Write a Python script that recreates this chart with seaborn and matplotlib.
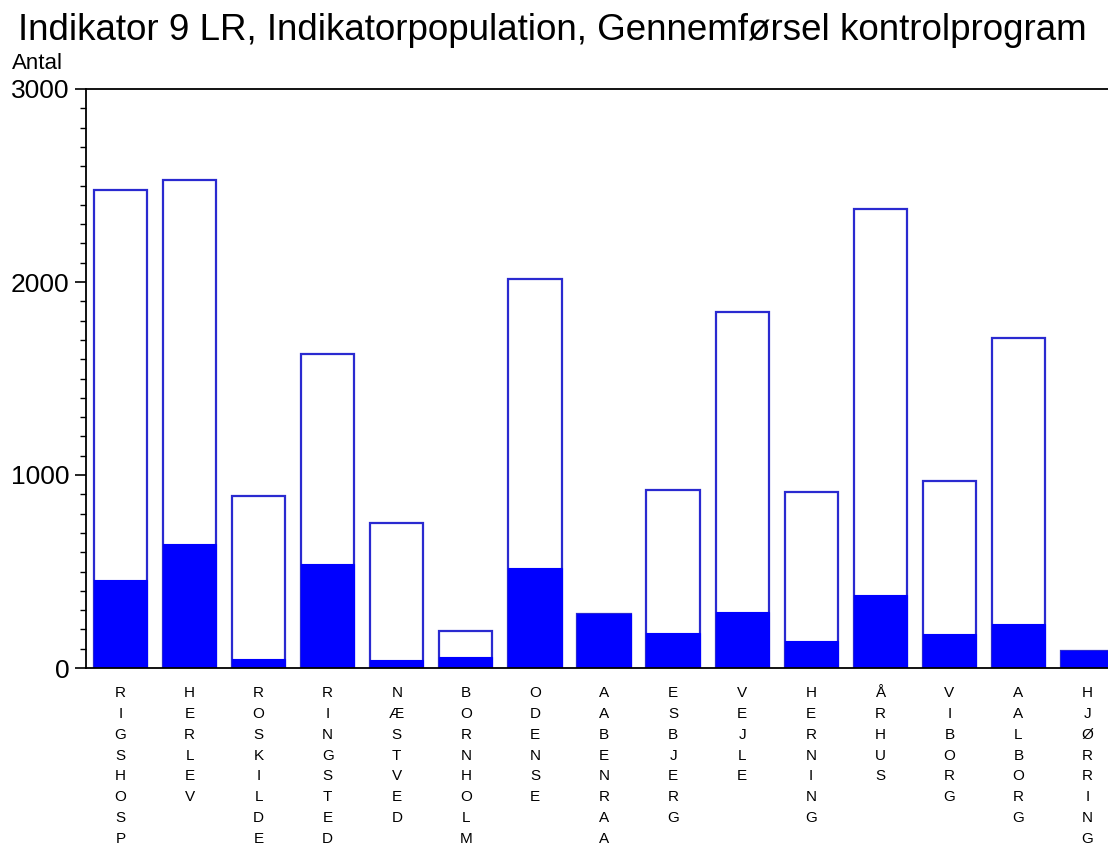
import numpy as np
import pandas as pd
import matplotlib
matplotlib.use("Agg")
import matplotlib.pyplot as plt
from matplotlib.ticker import MultipleLocator
import seaborn as sns

# data
afdelinger = ["RIGSHOSP", "HERLEV", "ROSKILDE", "RINGSTED", "NÆSTVED", "BORNHOLM",
              "ODENSE", "AABENRAA", "ESBJERG", "VEJLE", "HERNING", "ÅRHUS",
              "VIBORG", "AALBORG", "HJØRRING"]
antal_total = [2475, 2530, 889, 1628, 749, 194, 2014, 282, 922, 1842, 913, 2376, 967, 1711, 87]
antal_gennemfoert = [454, 643, 48, 541, 40, 56, 518, 282, 182, 290, 142, 378, 175, 230, 87]

df = pd.DataFrame({"afdeling": afdelinger,
                   "total": antal_total,
                   "gennemfoert": antal_gennemfoert})

sns.set_style("white")
plt.rcParams["font.family"] = ["Liberation Sans", "DejaVu Sans"]
plt.rcParams["text.color"] = "black"
plt.rcParams["xtick.color"] = "black"
plt.rcParams["ytick.color"] = "black"

fig = plt.figure(figsize=(11.08, 8.48), dpi=100)
ax = fig.add_axes([86 / 1108, 180 / 848, 1036 / 1108, 579 / 848])

sns.barplot(data=df, x="afdeling", y="total", color="white", edgecolor="#2a2ad0",
            linewidth=1.6, width=0.77, saturation=1, ax=ax)
sns.barplot(data=df, x="afdeling", y="gennemfoert", color="#0000ff", edgecolor="#0000ff",
            linewidth=0.8, width=0.77, saturation=1, ax=ax)

ax.set_xlim(-0.5, len(afdelinger) - 0.5)
ax.set_ylim(0, 3000)
ax.yaxis.set_major_locator(MultipleLocator(1000))
ax.yaxis.set_minor_locator(MultipleLocator(100))
ax.tick_params(axis="y", which="major", length=8, width=1.2, direction="out",
               labelsize=19, pad=4, left=True)
ax.tick_params(axis="y", which="minor", length=4.5, width=1, direction="out", left=True)
ax.tick_params(axis="x", length=0, pad=13)
ax.set_xticks(range(len(afdelinger)))
ax.set_xticklabels(["\n".join(a) for a in afdelinger], fontsize=11,
                   linespacing=1.62, va="top")
ax.set_xlabel("")
ax.set_ylabel("")

for side in ["left", "bottom", "top"]:
    ax.spines[side].set_color("black")
    ax.spines[side].set_linewidth(1.3)
ax.spines["right"].set_visible(False)

fig.text(18 / 1108, 1 - 13 / 848, "Indikator 9 LR, Indikatorpopulation, Gennemførsel kontrolprogram",
         fontsize=26.5, va="top", ha="left")
fig.text(12 / 1108, 1 - 53 / 848, "Antal", fontsize=16, va="top", ha="left")

fig.savefig("out.png", dpi=100, facecolor="white")
